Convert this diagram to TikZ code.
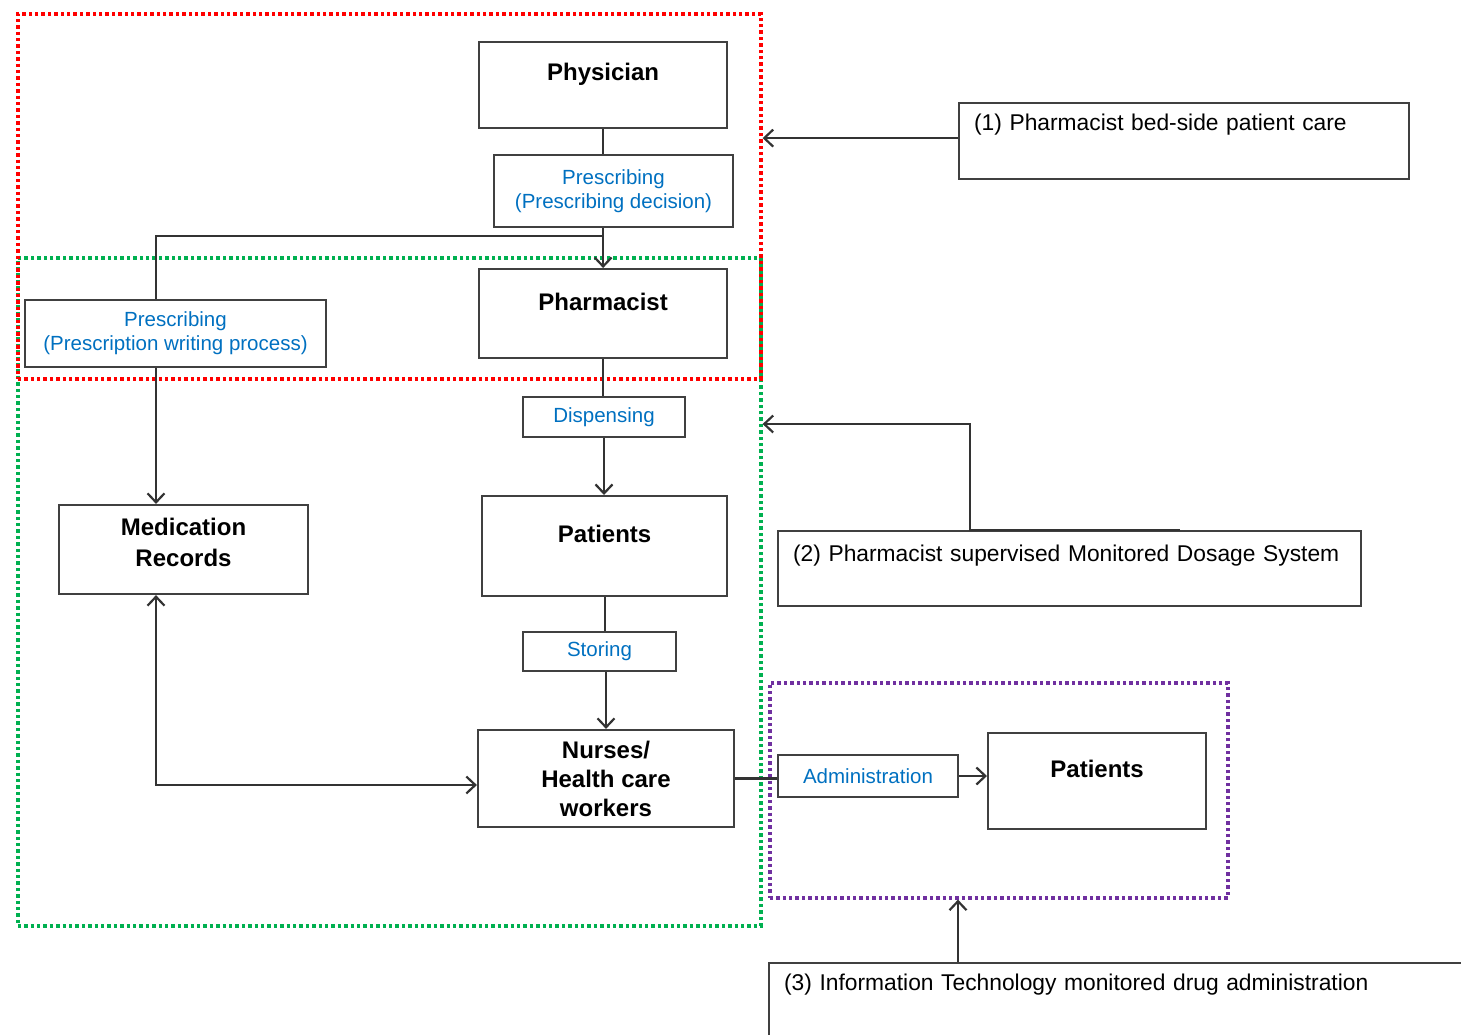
\documentclass[tikz,border=0pt]{standalone}
\usepackage{fontspec}
\setmainfont{Liberation Sans}
\usetikzlibrary{arrows.meta}

\definecolor{zonered}{RGB}{255,0,0}
\definecolor{zonegreen}{RGB}{0,176,80}
\definecolor{zonepurple}{RGB}{112,48,160}
\definecolor{actblue}{RGB}{0,112,192}

\tikzset{
    zone/.style={draw=#1, line width=3.6pt, dash pattern=on 3.4pt off 3pt, inner sep=0pt, anchor=north west},
    box/.style={draw=black!75, line width=2.2pt, inner sep=0pt},
    actor/.style={box, align=center, font=\bfseries\fontsize{24}{30}\selectfont},
    act/.style={box, align=center, text=actblue, font=\fontsize{20.5}{24}\selectfont},
    note/.style={box, anchor=north west, inner xsep=15pt, align=left, font=\fontsize{22.8}{27}\selectfont},
    link/.style={draw=black!80, line width=2.2pt},
    arr/.style={-{Straight Barb[length=9pt,width=17pt]}},
    twoarr/.style={{Straight Barb[length=9pt,width=17pt]}-{Straight Barb[length=9pt,width=17pt]}}
}

\begin{document}
\begin{tikzpicture}[x=1pt,y=-1pt]
                \useasboundingbox (0,0) rectangle (1461,1034);
                \clip (0,0) rectangle (1461,1034);

                \node[zone=zonegreen, minimum width=743pt, minimum height=668pt] (greenzone) at (16,256) {};
                \node[zone=zonered, minimum width=743pt, minimum height=365pt] (redzone) at (16,12) {};
                \node[zone=zonepurple, minimum width=458pt, minimum height=215pt] (purplezone) at (768,681) {};

                \node[actor, anchor=north west, minimum width=248pt, text height=38pt, text depth=48pt] (phys) at (478,41) {Physician};
                \node[act, minimum width=239pt, minimum height=72pt] (presc1) at (613.5,191) {Prescribing\\(Prescribing decision)};
                \node[actor, anchor=north west, minimum width=248pt, text height=41pt, text depth=48pt] (pharm) at (478,268) {Pharmacist};
                \node[act, minimum width=301pt, minimum height=67pt] (presc2) at (175.5,333.5) {Prescribing\\(Prescription writing process)};
                \node[act, minimum width=162pt, minimum height=40pt] (disp) at (604,417) {Dispensing};
                \node[actor, anchor=north west, minimum width=245pt, text height=46pt, text depth=54pt] (pat) at (481,495) {Patients};
                \node[actor, minimum width=249pt, minimum height=89pt, font=\bfseries\fontsize{24}{31}\selectfont] (medrec) at (183.5,549.5) {Medication\\Records\\[-16pt]\mbox{}};
                \node[act, minimum width=153pt, minimum height=39pt] (stor) at (599.5,651.5) {Storing};
                \node[actor, minimum width=256pt, minimum height=97pt, font=\bfseries\fontsize{24}{29}\selectfont] (nurse) at (606,778.5) {Nurses/\\Health care\\workers};
                \node[act, minimum width=180pt, minimum height=42pt] (admin) at (868,776) {Administration};
                \node[actor, anchor=north west, minimum width=218pt, text height=44pt, text depth=52pt] (pat2) at (987,732) {Patients};

                \node[note, text width=420pt, text height=27pt, text depth=49pt] (note1) at (958,102) {(1) Pharmacist bed-side patient care};
                \node[note, text width=553pt, text height=30pt, text depth=45pt] (note2) at (777,530) {(2) Pharmacist supervised Monitored Dosage System};
                \node[note, text width=770pt, text height=27pt, text depth=100pt] (note3) at (768,962) {(3) Information Technology monitored drug administration};

                \coordinate (split) at (603,236);
                \coordinate (branch) at (156,236);
                \coordinate (mds) at (970,424);

                \draw[link] (phys.south) -- (presc1.north -| phys.south);
                \draw[link, arr] (pharm.north |- presc1.south) -- (pharm.north);
                \draw[link] (split) -- (branch) -- (branch |- presc2.north);
                \draw[link, arr] (presc2.south -| branch) -- (medrec.north -| branch);
                \draw[link] (pharm.south) -- (pharm.south |- disp.north);
                \draw[link, arr] (disp.south) -- (disp.south |- pat.north);
                \draw[link] (pat.south) -- (pat.south |- stor.north);
                \draw[link, arr] (nurse.north |- stor.south) -- (nurse.north);
                \draw[link, twoarr] (medrec.south -| branch) |- ([yshift=-6.5pt]nurse.west);
                \draw[link] (nurse.east) -- (nurse.east -| admin.west);
                \draw[link, arr] (admin.east) -- (admin.east -| pat2.west);

                \draw[link, arr] ([yshift=3pt]note1.west) -- ([yshift=3pt]note1.west -| redzone.east);
                \draw[link, arr] ([xshift=403pt]note2.north west) -- (note2.north west -| mds) -- (mds) -- (mds -| greenzone.east);
                \draw[link, arr] ([xshift=190pt]note3.north west) -- ([xshift=190pt]note3.north west |- purplezone.south);

            \end{tikzpicture}
\end{document}
